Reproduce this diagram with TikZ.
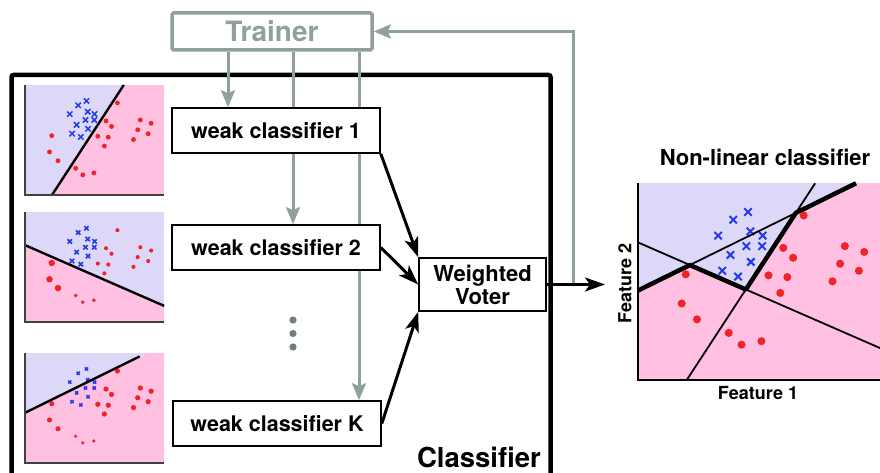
\documentclass[tikz,border=0pt]{standalone}
\usepackage{fontspec}
\setmainfont{TeX Gyre Heros}
\usetikzlibrary{arrows.meta}
\pgfdeclarelayer{back}
\pgfsetlayers{back,main}

\definecolor{lavender}{RGB}{221,216,248}
\definecolor{rosy}{RGB}{255,192,226}
\definecolor{traingray}{RGB}{143,160,158}
\definecolor{dotgray}{RGB}{112,126,124}
\definecolor{xblue}{RGB}{35,60,235}
\definecolor{dotred}{RGB}{240,35,40}

\newcommand{\samples}[5]{%
  \foreach \px/\py in {62.7/16.3, 54.3/20.7, 45.7/29.7, 64/27.3, 71/29.7, 61.7/35.7, 52.7/40.7, 70.7/35.7, 64.3/44.7, 48/49.7, 57/53}
    \draw[xblue, line width=#2] (\px-#1,\py-#1) -- (\px+#1,\py+#1) (\px-#1,\py+#1) -- (\px+#1,\py-#1);
  \foreach \px/\py in {27.3/51.7, 25/68.3, 33.7/77.3}
    \fill[dotred] (\px,\py) circle[radius=#3];
  \foreach \px/\py in {51.7/85, 59/91.7, 70.3/89.7}
    \fill[dotred] (\px,\py) circle[radius=#4];
  \foreach \px/\py in {94.3/18.3, 82.7/36.7, 88.3/42.3, 74.3/52.3, 85/53.3, 81/62.3, 117.7/35.7, 128.7/39, 115/45.7, 125.7/49.7, 110.7/55.7}
    \fill[dotred] (\px,\py) circle[radius=#5];
}

\begin{document}
\begin{tikzpicture}[x=1pt, y=-1pt]
            \tikzstyle{wbox} = [draw, fill=white, line width=1.6pt, minimum width=208pt, minimum height=45pt, inner sep=0pt, font=\fontsize{21.5}{24}\selectfont\bfseries]
            \tikzstyle{feed} = [draw=traingray, line width=3pt, -{Stealth[length=17pt, width=14pt, inset=3pt]}]
            \tikzstyle{vote} = [line width=3pt, -{Stealth[length=20pt, width=14pt, inset=5pt]}]
            \tikzstyle{boundary} = [line width=2.4pt]
            \tikzstyle{axis} = [line width=1.6pt, black!75]
            \useasboundingbox (0, 0) rectangle (880, 473);

            \node[anchor=base east, inner sep=0pt, font=\fontsize{27.5}{30}\selectfont\bfseries] (clabel) at (541, 467) {Classifier};

            \begin{scope}[shift={(25, 85)}, scale=0.98]
                \fill[rosy] (0, 0) rectangle (142, 112);
                \fill[lavender] (0, 0) -- (100.8, 0) -- (27.7, 112) -- (0, 112) -- cycle;
                \samples{2.7}{1.5pt}{2.5}{2.5}{2.5}
                \draw[boundary] (27.7, 112) -- (100.8, 0);
                \draw[axis] (0, 0) -- (0, 112) -- (142, 112);
            \end{scope}
            \begin{scope}[shift={(25, 212.3)}, scale=0.98]
                \fill[rosy] (0, 0) rectangle (142, 112);
                \fill[lavender] (0, 0) -- (142, 0) -- (142, 95.5) -- (0, 33.5) -- cycle;
                \samples{2.2}{1.6pt}{3.3}{2.0}{2.1}
                \draw[boundary] (0, 33.5) -- (142, 95.5);
                \draw[axis] (0, 0) -- (0, 112) -- (142, 112);
            \end{scope}
            \begin{scope}[shift={(25, 353)}, scale=0.98]
                \fill[rosy] (0, 0) rectangle (142, 112);
                \fill[lavender] (0, 0) -- (124, 0) -- (0, 61) -- cycle;
                \samples{1.6}{1.5pt}{2.6}{1.8}{2.7}
                \draw[boundary] (0, 61) -- (117, 3.5);
                \draw[axis] (0, 0) -- (0, 112) -- (142, 112);
            \end{scope}

            \node[draw=traingray, fill=white, line width=3.5pt, rounded corners=1.5pt, minimum width=200pt, minimum height=37pt, text=traingray, font=\fontsize{28}{30}\selectfont\bfseries] (trainer) at (272, 31.5) {Trainer};
            \node[wbox] (wc1) at (276, 130.5) {weak classifier 1};
            \node[wbox] (wc2) at (276, 247.5) {weak classifier 2};
            \node[wbox] (wcK) at (277, 423.5) {weak classifier K};
            \node[draw, fill=white, line width=1.6pt, minimum width=127pt, minimum height=53pt, align=center, font=\fontsize{22}{23}\selectfont\bfseries] (voter) at (482.5, 284.5) {Weighted\\Voter};
            \foreach \yy in {320, 333.5, 347}
                \fill[dotgray] (293, \yy) circle[radius=3.6];

            \coordinate (fork) at (573, 284.5);
            \coordinate (plotin) at (605, 284.5);
            \begin{pgfonlayer}{back}
                \draw[line width=4.5pt, rounded corners=2pt] (11.5, 75) rectangle (550.5, 480);
                \draw[feed] ([xshift=-44pt]trainer.south) -- ([xshift=-48pt]wc1.north);
                \draw[feed] ([xshift=21pt]trainer.south) -- ([xshift=17pt]wc2.north);
                \draw[feed] ([xshift=87pt]trainer.south) -- ([xshift=82pt]wcK.north);
                \draw[feed] (fork) |- (trainer.east);
            \end{pgfonlayer}
            \draw[vote] (wc1.south east) -- (voter.north west);
            \draw[vote] (wc2.east) -- (voter.west);
            \draw[vote] (wcK.east) -- (voter.south west);
            \draw[vote] (voter.east) -- (plotin);

            \node[font=\fontsize{22}{24}\selectfont\bfseries] (nltitle) at (765, 157) {Non-linear classifier};
            \node[font=\fontsize{18}{20}\selectfont\bfseries] (feat1) at (758, 393) {Feature 1};
            \node[rotate=90, font=\fontsize{18}{20}\selectfont\bfseries] (feat2) at (625, 283.5) {Feature 2};
            \begin{scope}[shift={(637.7, 183.3)}, scale=1.76]
                \coordinate (l1s) at (27.7, 112);
                \coordinate (l1e) at (100.8, 0);
                \coordinate (l2s) at (0, 33.5);
                \coordinate (l2e) at (142, 95.5);
                \coordinate (l3s) at (0, 61);
                \coordinate (l3e) at (124, 0);
                \coordinate (c23) at (intersection of l2s--l2e and l3s--l3e);
                \coordinate (c12) at (intersection of l1s--l1e and l2s--l2e);
                \coordinate (c13) at (intersection of l1s--l1e and l3s--l3e);
                \fill[rosy] (0, 0) rectangle (142, 112);
                \fill[lavender] (0, 0) -- (l3s) -- (c23) -- (c12) -- (c13) -- (l3e) -- cycle;
                \samples{2.1}{2pt}{2.3}{2.3}{2.3}
                \draw[line width=1.8pt] (l1s) -- (l1e) (l2s) -- (l2e) (l3s) -- (l3e);
                \draw[line width=4.5pt, line join=round] (l3s) -- (c23) -- (c12) -- (c13) -- (l3e);
                \draw[line width=2pt] (0, 0) -- (0, 112) -- (142, 112);
            \end{scope}
        \end{tikzpicture}
\end{document}
